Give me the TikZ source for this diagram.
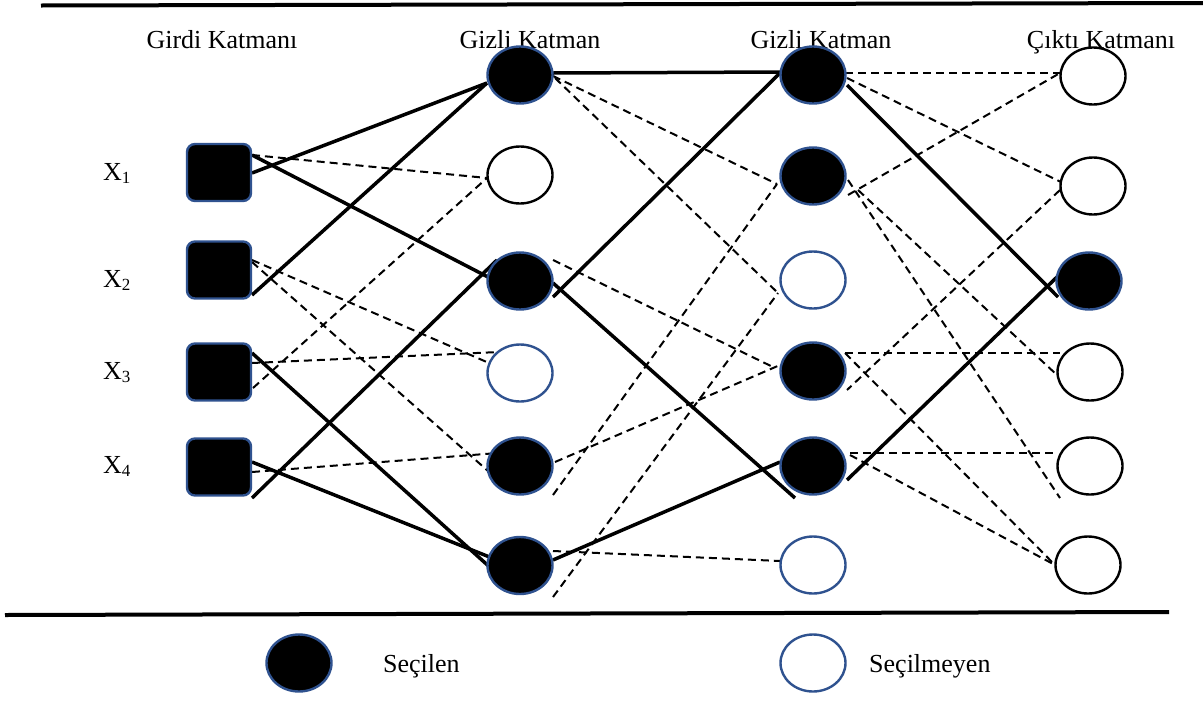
\documentclass[tikz,border=0pt]{standalone}
\usepackage{fontspec}
\setmainfont{Liberation Serif}
\usetikzlibrary{shapes.geometric,calc}
\pgfdeclarelayer{bg}
\pgfsetlayers{bg,main}
\definecolor{nodeblue}{RGB}{47,82,143}
\begin{document}
\begin{tikzpicture}[x=1pt,y=-1pt,
  neuron/.style={ellipse,minimum width=65pt,minimum height=57pt,inner sep=0pt,line width=2.4pt},
  selnode/.style={neuron,draw=nodeblue,fill=black},
  offblue/.style={neuron,draw=nodeblue,fill=white},
  offblack/.style={neuron,draw=black,fill=white},
  inbox/.style={rectangle,rounded corners=8pt,minimum width=64pt,minimum height=57pt,draw=nodeblue,fill=black,line width=2.4pt},
  conn/.style={line width=3.5pt},
  dconn/.style={line width=2pt,dash pattern=on 8pt off 5pt},
  hrule/.style={line width=4pt},
  lbl/.style={font=\fontsize{26}{30}\selectfont,inner sep=0pt}]
\useasboundingbox (0,0) rectangle (1203,702);

% layer titles
\node[lbl,anchor=base] (t1) at (222,48) {Girdi Katmanı};
\node[lbl,anchor=base] (t2) at (530,48) {Gizli Katman};
\node[lbl,anchor=base] (t3) at (821,48) {Gizli Katman};
\node[lbl,anchor=base] (t4) at (1101,48) {Çıktı Katmanı};

% input labels
\node[lbl,anchor=base west] (l1) at (103,180) {X\raisebox{-3pt}{\fontsize{17}{17}\selectfont 1}};
\node[lbl,anchor=base west] (l2) at (103,287) {X\raisebox{-3pt}{\fontsize{17}{17}\selectfont 2}};
\node[lbl,anchor=base west] (l3) at (103,379) {X\raisebox{-3pt}{\fontsize{17}{17}\selectfont 3}};
\node[lbl,anchor=base west] (l4) at (103,473) {X\raisebox{-3pt}{\fontsize{17}{17}\selectfont 4}};

% input nodes
\node[inbox] (x1) at (219,172.5) {};
\node[inbox] (x2) at (219,270) {};
\node[inbox] (x3) at (219,372) {};
\node[inbox] (x4) at (219,467) {};

% hidden layer 1
\node[selnode]  (a1) at (520,75) {};
\node[offblack] (a2) at (520,175) {};
\node[selnode]  (a3) at (520,281) {};
\node[offblue]  (a4) at (520,373) {};
\node[selnode]  (a5) at (520,466) {};
\node[selnode]  (a6) at (520,565.5) {};

% hidden layer 2
\node[selnode]  (b1) at (813,75) {};
\node[selnode]  (b2) at (813,176) {};
\node[offblue]  (b3) at (813,280) {};
\node[selnode]  (b4) at (813,371) {};
\node[selnode]  (b5) at (813,466) {};
\node[offblue]  (b6) at (813,565) {};

% output layer
\node[offblack] (o1) at (1093,76) {};
\node[offblack] (o2) at (1093,186) {};
\node[selnode]  (o3) at (1089,281) {};
\node[offblack] (o4) at (1090,372) {};
\node[offblack] (o5) at (1090,466) {};
\node[offblack] (o6) at (1088,565) {};

% legend
\node[selnode] (ls) at (299,663) {};
\node[offblue] (lu) at (813,663) {};
\node[lbl,anchor=base west] (lst) at (383,672) {Seçilen};
\node[lbl,anchor=base west] (lut) at (869,672) {Seçilmeyen};

% rules
\coordinate (r1a) at (41,5.5);
\coordinate (r1b) at (1203,3);
\coordinate (r2a) at (5,615);
\coordinate (r2b) at (1169,612);
\draw[hrule] (r1a) -- (r1b);
\draw[hrule] (r2a) -- (r2b);

\begin{pgfonlayer}{bg}
% solid connectors
\draw[conn] ($(x1.center)+(33,0.5)$) -- ($(a1.center)+(-33,8)$);
\draw[conn] ($(x1.center)+(33,-17.5)$) -- ($(a3.center)+(-32,-4)$);
\draw[conn] ($(x2.center)+(33,25)$) -- ($(a1.center)+(-33,8)$);
\draw[conn] ($(x3.center)+(33,-19)$) -- ($(a6.center)+(-27,4.5)$);
\draw[conn] ($(x4.center)+(33,-5)$) -- ($(a6.center)+(-28,-7.5)$);
\draw[conn] ($(x4.center)+(33,31)$) -- ($(a3.center)+(-23,-21)$);
\draw[conn] ($(a1.center)+(33,-2)$) -- ($(b1.center)+(-33,-3)$);
\draw[conn] ($(a3.center)+(33,16)$) -- ($(b1.center)+(-33,-2)$);
\draw[conn] ($(a3.center)+(33,2)$) -- ($(b5.center)+(-18,32)$);
\draw[conn] ($(a6.center)+(33,-5.5)$) -- ($(b5.center)+(-33,-4)$);
\draw[conn] ($(b1.center)+(34,10)$) -- ($(o3.center)+(-31,16)$);
\draw[conn] ($(b5.center)+(34,14)$) -- ($(o3.center)+(-32,-4)$);

% dashed connectors
\draw[dconn] ($(x1.center)+(33,-17.5)$) -- ($(a2.center)+(-33,3)$);
\draw[dconn] ($(x2.center)+(33,-10)$) -- ($(a4.center)+(-31,-10)$);
\draw[dconn] ($(x2.center)+(33,-8)$) -- ($(a5.center)+(-32,5)$);
\draw[dconn] ($(x3.center)+(34,16)$) -- ($(a2.center)+(-33,3)$);
\draw[dconn] ($(x3.center)+(33,-9)$) -- ($(a4.center)+(-21,-21)$);
\draw[dconn] ($(x4.center)+(33,5)$) -- ($(a5.center)+(-22,-13)$);

\draw[dconn] ($(a1.center)+(33,1)$) -- ($(b2.center)+(-36,8)$);
\draw[dconn] ($(a1.center)+(35,3)$) -- ($(b3.center)+(-35,13)$);
\draw[dconn] ($(a3.center)+(33,-21)$) -- ($(b4.center)+(-38,-3)$);
\draw[dconn] ($(a5.center)+(33,29)$) -- ($(b2.center)+(-36,8)$);
\draw[dconn] ($(a6.center)+(33,31.5)$) -- ($(b3.center)+(-35,13)$);
\draw[dconn] ($(a5.center)+(35,-4)$) -- ($(b4.center)+(-33,-6)$);
\draw[dconn] ($(a6.center)+(33,-14.5)$) -- ($(b6.center)+(-33,-4)$);

\draw[dconn] ($(b1.center)+(32,-2)$) -- ($(o1.center)+(-33,-3)$);
\draw[dconn] ($(b1.center)+(34,3)$) -- ($(o2.center)+(-28,-2)$);
\draw[dconn] ($(b2.center)+(35,19)$) -- ($(o1.center)+(-33,-3)$);
\draw[dconn] ($(b2.center)+(35,4)$) -- ($(o5.center)+(-30,32)$);
\draw[dconn] ($(b2.center)+(45,14)$) -- ($(o4.center)+(-33,3)$);
\draw[dconn] ($(o2.center)+(-33,4)$) -- ($(b4.center)+(34,19)$);
\draw[dconn] ($(b4.center)+(32,-18)$) -- ($(o4.center)+(-30,-19)$);
\draw[dconn] ($(b4.center)+(32,-18)$) -- ($(o6.center)+(-30,3)$);
\draw[dconn] ($(b5.center)+(37,-13)$) -- ($(o5.center)+(-33,-13)$);
\draw[dconn] ($(b5.center)+(37,-11)$) -- ($(o6.center)+(-33,0)$);
\end{pgfonlayer}
\end{tikzpicture}
\end{document}
